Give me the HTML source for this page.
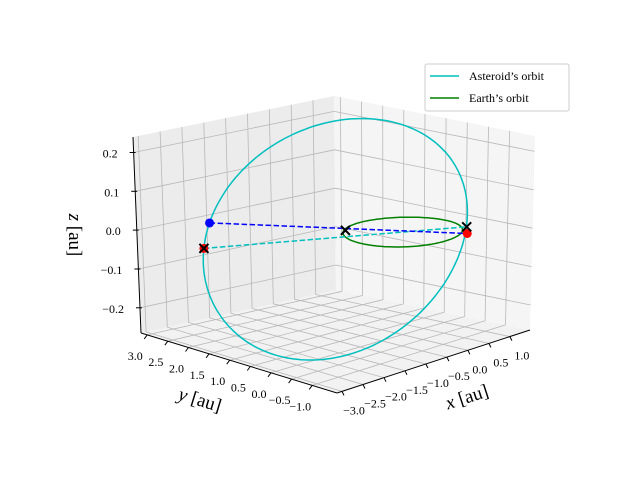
<!DOCTYPE html>
<html><head><meta charset="utf-8"><style>
html,body{margin:0;padding:0;background:#fff;}
svg{display:block;font-family:"Liberation Serif",serif;}
</style></head><body>
<svg id="chart" width="640" height="480" viewBox="0 0 640 480" xmlns="http://www.w3.org/2000/svg">
<g id="panes"></g>
<g id="grid"></g>
<g id="axes"></g>
<g id="series"></g>
<g>
<rect x="425" y="64" width="144" height="47" rx="2" fill="#fff" fill-opacity="0.8" stroke="#ccc" stroke-width="1"/>
<line x1="430" y1="76" x2="459" y2="76" stroke="#00bfbf" stroke-width="1.6"/>
<text x="469" y="80" font-size="12">Asteroid’s orbit</text>
<line x1="430" y1="98" x2="459" y2="98" stroke="#008000" stroke-width="1.6"/>
<text x="469" y="102" font-size="12">Earth’s orbit</text>
</g>
<text x="467" y="403" font-size="19" text-anchor="middle" transform="rotate(-18 467 397)"><tspan font-style="italic">x</tspan> [au]</text>
<text x="200" y="406" font-size="19" text-anchor="middle" transform="rotate(17 200 400)"><tspan font-style="italic">y</tspan> [au]</text>
<text x="75" y="241" font-size="19" text-anchor="middle" transform="rotate(90 75 235)"><tspan font-style="italic">z</tspan> [au]</text>
</svg>
<script>
// ---- data ----
const xTicks = [-3.0,-2.5,-2.0,-1.5,-1.0,-0.5,0.0,0.5,1.0];
const yTicks = [-1.0,-0.5,0.0,0.5,1.0,1.5,2.0,2.5,3.0];
const zTicks = [-0.2,-0.1,0.0,0.1,0.2];
const xLim = [-3.12, 1.48];
const yLim = [-1.6, 3.15];
const zLim = [-0.265, 0.24];
const asteroidCenter = [-1.13, 0.46, 0.0];
const asteroidAxisA = [1.97, -1.12, 0.0];
const asteroidAxisB = [-0.51, -0.9, 0.346];
const earthRadius = [1.0];
const asteroidPos1 = [-1.59, 2.99, -0.013];
const earthPos1 = [0.59, -0.94, 0.0];
const asteroidPos2 = [-2.74, 1.95, -0.02];
const earthPos2 = [0.9, -0.61, 0.0];
const extraMark = [-0.57, 0.79, 0.0];

// ---- projection (trilinear from box corners in screen space) ----
const C = {
  '000':[337,393],'100':[530,330],'010':[141,333],'110':[336,290],
  '001':[337,190],'101':[535,136],'011':[133,137],'111':[334,96]
};
function lerp(a,b,t){return [a[0]+(b[0]-a[0])*t,a[1]+(b[1]-a[1])*t];}
function P(x,y,z){
  const tx=(x-xLim[0])/(xLim[1]-xLim[0]), ty=(y-yLim[0])/(yLim[1]-yLim[0]), tz=(z-zLim[0])/(zLim[1]-zLim[0]);
  const b=lerp(lerp(C['000'],C['100'],tx),lerp(C['010'],C['110'],tx),ty);
  const t=lerp(lerp(C['001'],C['101'],tx),lerp(C['011'],C['111'],tx),ty);
  return lerp(b,t,tz);
}
const NS='http://www.w3.org/2000/svg';
function mk(tag,attrs,parent){const e=document.createElementNS(NS,tag);for(const k in attrs)e.setAttribute(k,attrs[k]);parent.appendChild(e);return e;}
function pts(arr){return arr.map(p=>p[0].toFixed(1)+','+p[1].toFixed(1)).join(' ');}
const [x0,x1]=xLim,[y0,y1]=yLim,[z0,z1]=zLim;
const panes=document.getElementById('panes'), grid=document.getElementById('grid'), axes=document.getElementById('axes'), series=document.getElementById('series');

let e;
e=mk('polygon',{points:pts([P(x0,y0,z0),P(x1,y0,z0),P(x1,y1,z0),P(x0,y1,z0)]),fill:'#f2f2f2'},panes);


e=mk('polygon',{points:pts([P(x0,y1,z0),P(x1,y1,z0),P(x1,y1,z1),P(x0,y1,z1)]),fill:'#ececec'},panes);


e=mk('polygon',{points:pts([P(x1,y0,z0),P(x1,y1,z0),P(x1,y1,z1),P(x1,y0,z1)]),fill:'#f5f5f5'},panes);



function gl(a,b){const l=mk('polyline',{points:pts([a,b]),fill:'none',stroke:'#b8b8b8','stroke-width':0.8},grid);

}
xTicks.forEach(x=>{gl(P(x,y0,z0),P(x,y1,z0));gl(P(x,y1,z0),P(x,y1,z1));});
yTicks.forEach(y=>{gl(P(x0,y,z0),P(x1,y,z0));gl(P(x1,y,z0),P(x1,y,z1));});
zTicks.forEach(z=>{gl(P(x0,y1,z),P(x1,y1,z));gl(P(x1,y1,z),P(x1,y0,z));});

// axis lines
function al(a,b,name){const l=mk('polyline',{points:pts([a,b]),stroke:'#000','stroke-width':1,fill:'none'},axes);

}
al(P(x0,y0,z0),P(x1,y0,z0),'x-axis-line');
al(P(x0,y0,z0),P(x0,y1,z0),'y-axis-line');
al(P(x0,y1,z0),P(x0,y1,z1),'z-axis-line');
function tx(x,y,s,anchor){const t=mk('text',{x:x,y:y,'font-size':12,'text-anchor':anchor||'middle'},axes);t.textContent=s;

}
function fmt(v){return (v<0?'\u2212':'')+Math.abs(v).toFixed(1);}
xTicks.forEach(x=>{const p=P(x,y0,z0);al(p,[p[0]+2,p[1]+4],'x-tick');tx(p[0]+12,p[1]+23,fmt(x));});
yTicks.forEach(y=>{const p=P(x0,y,z0);al(p,[p[0]-3,p[1]+4],'y-tick');tx(p[0]-12,p[1]+25,fmt(y));});
zTicks.forEach(z=>{const p=P(x0,y1,z);al([p[0]-4,p[1]],[p[0]+2,p[1]],'z-tick');tx(p[0]-16,p[1]+5,fmt(z),'end');});

// series
const ast=[],earth=[];
for(let i=0;i<=200;i++){const t=i/200*2*Math.PI,c=Math.cos(t),s=Math.sin(t);
  ast.push(P(asteroidCenter[0]+asteroidAxisA[0]*c+asteroidAxisB[0]*s,asteroidCenter[1]+asteroidAxisA[1]*c+asteroidAxisB[1]*s,asteroidCenter[2]+asteroidAxisA[2]*c+asteroidAxisB[2]*s));
  earth.push(P(earthRadius[0]*c,earthRadius[0]*s,0));}
e=mk('polyline',{points:pts(ast),fill:'none',stroke:'#00bfbf','stroke-width':1.5},series);


e=mk('polyline',{points:pts(earth),fill:'none',stroke:'#008000','stroke-width':1.5},series);


const pa1=P(...asteroidPos1),pe1=P(...earthPos1),pa2=P(...asteroidPos2),pe2=P(...earthPos2),pm=P(...extraMark);
e=mk('polyline',{points:pts([pa2,pe2]),fill:'none',stroke:'#00bfbf','stroke-width':1.5,'stroke-dasharray':'5.5,2.5'},series);


e=mk('polyline',{points:pts([pa1,pe1]),fill:'none',stroke:'#0000ff','stroke-width':1.5,'stroke-dasharray':'5.5,2.5'},series);


function dot(p,col,name){const c=mk('circle',{cx:p[0],cy:p[1],r:4.5,fill:col},series);

}
function cross(p,name){const g=mk('path',{d:`M${p[0]-4.5},${p[1]-4.5}L${p[0]+4.5},${p[1]+4.5}M${p[0]-4.5},${p[1]+4.5}L${p[0]+4.5},${p[1]-4.5}`,stroke:'#000','stroke-width':2},series);

}
dot(pa1,'#0000ff','asteroid-marker');
dot(pe1,'#ff0000','earth-marker');
dot(pa2,'#ff0000','asteroid-marker-2-base');
cross(pa2,'asteroid-cross');
cross(pe2,'earth-cross');
cross(pm,'orbit-cross');
</script>
</body></html>
